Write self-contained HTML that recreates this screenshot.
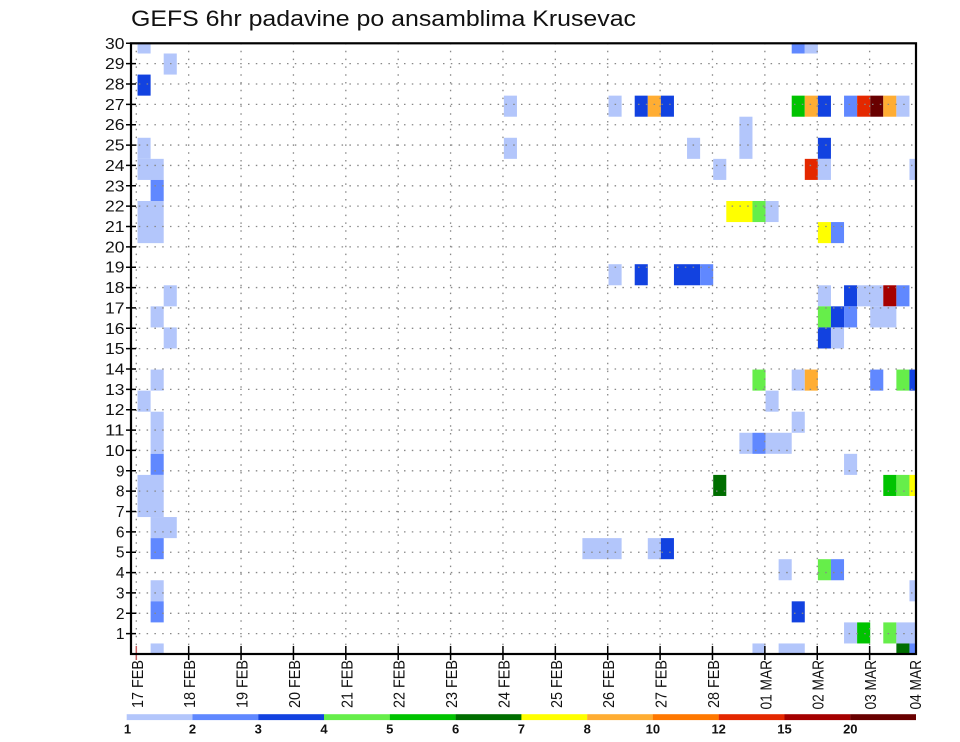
<!DOCTYPE html>
<html>
<head>
<meta charset="utf-8">
<style>
html,body{margin:0;padding:0;background:#fff;}
svg{display:block;}
text{font-family:"Liberation Sans",sans-serif;fill:#111;}
</style>
</head>
<body>
<svg width="960" height="742" viewBox="0 0 960 742" xmlns="http://www.w3.org/2000/svg">
<rect width="960" height="742" fill="#fff"/>
<defs><clipPath id="plot"><rect x="131" y="43.3" width="785" height="610.7"/></clipPath></defs>
<text x="131" y="26" font-size="22" textLength="505" lengthAdjust="spacingAndGlyphs">GEFS 6hr padavine po ansamblima Krusevac</text>
<g clip-path="url(#plot)"><g transform="translate(131,654) scale(13.0833,-21.07)">
<rect x="0.5" y="28.5" width="1" height="1" fill="#b3c6fb"/>
<rect x="2.5" y="27.5" width="1" height="1" fill="#b3c6fb"/>
<rect x="0.5" y="26.5" width="1" height="1" fill="#1242e0"/>
<rect x="0.5" y="23.5" width="1" height="1" fill="#b3c6fb"/>
<rect x="0.5" y="22.5" width="2" height="1" fill="#b3c6fb"/>
<rect x="1.5" y="21.5" width="1" height="1" fill="#6088ff"/>
<rect x="0.5" y="19.5" width="2" height="2" fill="#b3c6fb"/>
<rect x="2.5" y="16.5" width="1" height="1" fill="#b3c6fb"/>
<rect x="1.5" y="15.5" width="1" height="1" fill="#b3c6fb"/>
<rect x="2.5" y="14.5" width="1" height="1" fill="#b3c6fb"/>
<rect x="1.5" y="12.5" width="1" height="1" fill="#b3c6fb"/>
<rect x="0.5" y="11.5" width="1" height="1" fill="#b3c6fb"/>
<rect x="1.5" y="9.5" width="1" height="2" fill="#b3c6fb"/>
<rect x="1.5" y="8.5" width="1" height="1" fill="#6088ff"/>
<rect x="0.5" y="6.5" width="2" height="2" fill="#b3c6fb"/>
<rect x="1.5" y="5.5" width="2" height="1" fill="#b3c6fb"/>
<rect x="1.5" y="4.5" width="1" height="1" fill="#6088ff"/>
<rect x="1.5" y="2.5" width="1" height="1" fill="#b3c6fb"/>
<rect x="1.5" y="1.5" width="1" height="1" fill="#6088ff"/>
<rect x="1.5" y="-0.5" width="1" height="1" fill="#b3c6fb"/>
<rect x="50.5" y="28.5" width="1" height="1" fill="#6088ff"/>
<rect x="51.5" y="28.5" width="1" height="1" fill="#b3c6fb"/>
<rect x="28.5" y="25.5" width="1" height="1" fill="#b3c6fb"/>
<rect x="36.5" y="25.5" width="1" height="1" fill="#b3c6fb"/>
<rect x="38.5" y="25.5" width="1" height="1" fill="#1242e0"/>
<rect x="39.5" y="25.5" width="1" height="1" fill="#ffad33"/>
<rect x="40.5" y="25.5" width="1" height="1" fill="#1242e0"/>
<rect x="50.5" y="25.5" width="1" height="1" fill="#00c300"/>
<rect x="51.5" y="25.5" width="1" height="1" fill="#ffad33"/>
<rect x="52.5" y="25.5" width="1" height="1" fill="#1242e0"/>
<rect x="54.5" y="25.5" width="1" height="1" fill="#6088ff"/>
<rect x="55.5" y="25.5" width="1" height="1" fill="#e42800"/>
<rect x="56.5" y="25.5" width="1" height="1" fill="#690000"/>
<rect x="57.5" y="25.5" width="1" height="1" fill="#ffad33"/>
<rect x="58.5" y="25.5" width="1" height="1" fill="#b3c6fb"/>
<rect x="46.5" y="23.5" width="1" height="2" fill="#b3c6fb"/>
<rect x="28.5" y="23.5" width="1" height="1" fill="#b3c6fb"/>
<rect x="42.5" y="23.5" width="1" height="1" fill="#b3c6fb"/>
<rect x="52.5" y="23.5" width="1" height="1" fill="#1242e0"/>
<rect x="44.5" y="22.5" width="1" height="1" fill="#b3c6fb"/>
<rect x="51.5" y="22.5" width="1" height="1" fill="#e42800"/>
<rect x="52.5" y="22.5" width="1" height="1" fill="#b3c6fb"/>
<rect x="59.5" y="22.5" width="1" height="1" fill="#b3c6fb"/>
<rect x="45.5" y="20.5" width="2" height="1" fill="#ffff00"/>
<rect x="47.5" y="20.5" width="1" height="1" fill="#66ee4a"/>
<rect x="48.5" y="20.5" width="1" height="1" fill="#b3c6fb"/>
<rect x="52.5" y="19.5" width="1" height="1" fill="#ffff00"/>
<rect x="53.5" y="19.5" width="1" height="1" fill="#6088ff"/>
<rect x="36.5" y="17.5" width="1" height="1" fill="#b3c6fb"/>
<rect x="38.5" y="17.5" width="1" height="1" fill="#1242e0"/>
<rect x="41.5" y="17.5" width="2" height="1" fill="#1242e0"/>
<rect x="43.5" y="17.5" width="1" height="1" fill="#6088ff"/>
<rect x="52.5" y="16.5" width="1" height="1" fill="#b3c6fb"/>
<rect x="54.5" y="16.5" width="1" height="1" fill="#1242e0"/>
<rect x="55.5" y="16.5" width="2" height="1" fill="#b3c6fb"/>
<rect x="57.5" y="16.5" width="1" height="1" fill="#a50000"/>
<rect x="58.5" y="16.5" width="1" height="1" fill="#6088ff"/>
<rect x="52.5" y="15.5" width="1" height="1" fill="#66ee4a"/>
<rect x="53.5" y="15.5" width="1" height="1" fill="#1242e0"/>
<rect x="54.5" y="15.5" width="1" height="1" fill="#6088ff"/>
<rect x="56.5" y="15.5" width="2" height="1" fill="#b3c6fb"/>
<rect x="52.5" y="14.5" width="1" height="1" fill="#1242e0"/>
<rect x="53.5" y="14.5" width="1" height="1" fill="#b3c6fb"/>
<rect x="47.5" y="12.5" width="1" height="1" fill="#66ee4a"/>
<rect x="50.5" y="12.5" width="1" height="1" fill="#b3c6fb"/>
<rect x="51.5" y="12.5" width="1" height="1" fill="#ffad33"/>
<rect x="56.5" y="12.5" width="1" height="1" fill="#6088ff"/>
<rect x="58.5" y="12.5" width="1" height="1" fill="#66ee4a"/>
<rect x="59.5" y="12.5" width="1" height="1" fill="#1242e0"/>
<rect x="48.5" y="11.5" width="1" height="1" fill="#b3c6fb"/>
<rect x="50.5" y="10.5" width="1" height="1" fill="#b3c6fb"/>
<rect x="46.5" y="9.5" width="1" height="1" fill="#b3c6fb"/>
<rect x="47.5" y="9.5" width="1" height="1" fill="#6088ff"/>
<rect x="48.5" y="9.5" width="2" height="1" fill="#b3c6fb"/>
<rect x="54.5" y="8.5" width="1" height="1" fill="#b3c6fb"/>
<rect x="44.5" y="7.5" width="1" height="1" fill="#006e00"/>
<rect x="57.5" y="7.5" width="1" height="1" fill="#00c300"/>
<rect x="58.5" y="7.5" width="1" height="1" fill="#66ee4a"/>
<rect x="59.5" y="7.5" width="1" height="1" fill="#ffff00"/>
<rect x="34.5" y="4.5" width="3" height="1" fill="#b3c6fb"/>
<rect x="39.5" y="4.5" width="1" height="1" fill="#b3c6fb"/>
<rect x="40.5" y="4.5" width="1" height="1" fill="#1242e0"/>
<rect x="49.5" y="3.5" width="1" height="1" fill="#b3c6fb"/>
<rect x="52.5" y="3.5" width="1" height="1" fill="#66ee4a"/>
<rect x="53.5" y="3.5" width="1" height="1" fill="#6088ff"/>
<rect x="59.5" y="2.5" width="1" height="1" fill="#b3c6fb"/>
<rect x="50.5" y="1.5" width="1" height="1" fill="#1242e0"/>
<rect x="54.5" y="0.5" width="1" height="1" fill="#b3c6fb"/>
<rect x="55.5" y="0.5" width="1" height="1" fill="#00c300"/>
<rect x="57.5" y="0.5" width="1" height="1" fill="#66ee4a"/>
<rect x="58.5" y="0.5" width="2" height="1" fill="#b3c6fb"/>
<rect x="47.5" y="-0.5" width="1" height="1" fill="#b3c6fb"/>
<rect x="49.5" y="-0.5" width="2" height="1" fill="#b3c6fb"/>
<rect x="58.5" y="-0.5" width="1" height="1" fill="#006e00"/>
<rect x="59.5" y="-0.5" width="1" height="1" fill="#6088ff"/>
</g></g>
<path fill="none" stroke="#888" stroke-width="1.3" stroke-dasharray="1.5 6.3" d="M131 633.64H916M131 613.29H916M131 592.93H916M131 572.57H916M131 552.22H916M131 531.86H916M131 511.5H916M131 491.14H916M131 470.79H916M131 450.43H916M131 430.07H916M131 409.72H916M131 389.36H916M131 369H916M131 348.65H916M131 328.29H916M131 307.93H916M131 287.57H916M131 267.22H916M131 246.86H916M131 226.5H916M131 206.15H916M131 185.79H916M131 165.43H916M131 145.08H916M131 124.72H916M131 104.36H916M131 84H916M131 63.65H916M136.3 43V654M188.68 43V654M241.06 43V654M293.44 43V654M345.82 43V654M398.2 43V654M450.58 43V654M502.96 43V654M555.34 43V654M607.72 43V654M660.1 43V654M712.48 43V654M764.86 43V654M817.24 43V654M869.62 43V654"/>
<path fill="none" stroke="#000" stroke-width="1.5" d="M126 633.64H136M126 613.29H136M126 592.93H136M126 572.57H136M126 552.22H136M126 531.86H136M126 511.5H136M126 491.14H136M126 470.79H136M126 450.43H136M126 430.07H136M126 409.72H136M126 389.36H136M126 369H136M126 348.65H136M126 328.29H136M126 307.93H136M126 287.57H136M126 267.22H136M126 246.86H136M126 226.5H136M126 206.15H136M126 185.79H136M126 165.43H136M126 145.08H136M126 124.72H136M126 104.36H136M126 84H136M126 63.65H136M126 43.3H136M188.68 646V660M241.06 646V660M293.44 646V660M345.82 646V660M398.2 646V660M450.58 646V660M502.96 646V660M555.34 646V660M607.72 646V660M660.1 646V660M712.48 646V660M764.86 646V660M817.24 646V660M869.62 646V660"/>
<path d="M136.3 646V660" stroke="#c86060" stroke-width="1.5"/>
<rect x="131" y="43.3" width="785" height="610.7" fill="none" stroke="#000" stroke-width="2.2"/>
<g font-size="15.5" text-anchor="end">
<text x="124.5" y="639.1">1</text>
<text x="124.5" y="618.8">2</text>
<text x="124.5" y="598.4">3</text>
<text x="124.5" y="578.1">4</text>
<text x="124.5" y="557.7">5</text>
<text x="124.5" y="537.4">6</text>
<text x="124.5" y="517">7</text>
<text x="124.5" y="496.6">8</text>
<text x="124.5" y="476.3">9</text>
<text x="124.5" y="455.9" textLength="19.5" lengthAdjust="spacingAndGlyphs">10</text>
<text x="124.5" y="435.6" textLength="19.5" lengthAdjust="spacingAndGlyphs">11</text>
<text x="124.5" y="415.2" textLength="19.5" lengthAdjust="spacingAndGlyphs">12</text>
<text x="124.5" y="394.9" textLength="19.5" lengthAdjust="spacingAndGlyphs">13</text>
<text x="124.5" y="374.5" textLength="19.5" lengthAdjust="spacingAndGlyphs">14</text>
<text x="124.5" y="354.2" textLength="19.5" lengthAdjust="spacingAndGlyphs">15</text>
<text x="124.5" y="333.8" textLength="19.5" lengthAdjust="spacingAndGlyphs">16</text>
<text x="124.5" y="313.4" textLength="19.5" lengthAdjust="spacingAndGlyphs">17</text>
<text x="124.5" y="293.1" textLength="19.5" lengthAdjust="spacingAndGlyphs">18</text>
<text x="124.5" y="272.7" textLength="19.5" lengthAdjust="spacingAndGlyphs">19</text>
<text x="124.5" y="252.4" textLength="19.5" lengthAdjust="spacingAndGlyphs">20</text>
<text x="124.5" y="232" textLength="19.5" lengthAdjust="spacingAndGlyphs">21</text>
<text x="124.5" y="211.7" textLength="19.5" lengthAdjust="spacingAndGlyphs">22</text>
<text x="124.5" y="191.3" textLength="19.5" lengthAdjust="spacingAndGlyphs">23</text>
<text x="124.5" y="170.9" textLength="19.5" lengthAdjust="spacingAndGlyphs">24</text>
<text x="124.5" y="150.6" textLength="19.5" lengthAdjust="spacingAndGlyphs">25</text>
<text x="124.5" y="130.2" textLength="19.5" lengthAdjust="spacingAndGlyphs">26</text>
<text x="124.5" y="109.9" textLength="19.5" lengthAdjust="spacingAndGlyphs">27</text>
<text x="124.5" y="89.5" textLength="19.5" lengthAdjust="spacingAndGlyphs">28</text>
<text x="124.5" y="69.2" textLength="19.5" lengthAdjust="spacingAndGlyphs">29</text>
<text x="124.5" y="48.8" textLength="19.5" lengthAdjust="spacingAndGlyphs">30</text>
</g>
<g font-size="16">
<text transform="translate(142.8,708) rotate(-90)" textLength="48" lengthAdjust="spacingAndGlyphs">17 FEB</text>
<text transform="translate(195.2,708) rotate(-90)" textLength="48" lengthAdjust="spacingAndGlyphs">18 FEB</text>
<text transform="translate(247.6,708) rotate(-90)" textLength="48" lengthAdjust="spacingAndGlyphs">19 FEB</text>
<text transform="translate(299.9,708) rotate(-90)" textLength="48" lengthAdjust="spacingAndGlyphs">20 FEB</text>
<text transform="translate(352.3,708) rotate(-90)" textLength="48" lengthAdjust="spacingAndGlyphs">21 FEB</text>
<text transform="translate(404.7,708) rotate(-90)" textLength="48" lengthAdjust="spacingAndGlyphs">22 FEB</text>
<text transform="translate(457.1,708) rotate(-90)" textLength="48" lengthAdjust="spacingAndGlyphs">23 FEB</text>
<text transform="translate(509.5,708) rotate(-90)" textLength="48" lengthAdjust="spacingAndGlyphs">24 FEB</text>
<text transform="translate(561.8,708) rotate(-90)" textLength="48" lengthAdjust="spacingAndGlyphs">25 FEB</text>
<text transform="translate(614.2,708) rotate(-90)" textLength="48" lengthAdjust="spacingAndGlyphs">26 FEB</text>
<text transform="translate(666.6,708) rotate(-90)" textLength="48" lengthAdjust="spacingAndGlyphs">27 FEB</text>
<text transform="translate(719,708) rotate(-90)" textLength="48" lengthAdjust="spacingAndGlyphs">28 FEB</text>
<text transform="translate(771.4,709.5) rotate(-90)" textLength="49.5" lengthAdjust="spacingAndGlyphs">01 MAR</text>
<text transform="translate(823.7,709.5) rotate(-90)" textLength="49.5" lengthAdjust="spacingAndGlyphs">02 MAR</text>
<text transform="translate(876.1,709.5) rotate(-90)" textLength="49.5" lengthAdjust="spacingAndGlyphs">03 MAR</text>
<text transform="translate(921,709.5) rotate(-90)" textLength="49.5" lengthAdjust="spacingAndGlyphs">04 MAR</text>
</g>
<rect x="126.7" y="714.2" width="65.9" height="5.9" fill="#b3c6fb"/>
<rect x="192.5" y="714.2" width="65.9" height="5.9" fill="#6088ff"/>
<rect x="258.3" y="714.2" width="65.9" height="5.9" fill="#1242e0"/>
<rect x="324" y="714.2" width="65.9" height="5.9" fill="#66ee4a"/>
<rect x="389.8" y="714.2" width="65.9" height="5.9" fill="#00c300"/>
<rect x="455.6" y="714.2" width="65.9" height="5.9" fill="#006e00"/>
<rect x="521.4" y="714.2" width="65.9" height="5.9" fill="#ffff00"/>
<rect x="587.2" y="714.2" width="65.9" height="5.9" fill="#ffad33"/>
<rect x="652.9" y="714.2" width="65.9" height="5.9" fill="#ff7800"/>
<rect x="718.7" y="714.2" width="65.9" height="5.9" fill="#e42800"/>
<rect x="784.5" y="714.2" width="65.9" height="5.9" fill="#a50000"/>
<rect x="850.3" y="714.2" width="65.7" height="5.9" fill="#690000"/>
<g font-size="13" font-weight="bold" text-anchor="middle">
<text x="127.5" y="733.5">1</text>
<text x="192.5" y="733.5">2</text>
<text x="258.3" y="733.5">3</text>
<text x="324" y="733.5">4</text>
<text x="389.8" y="733.5">5</text>
<text x="455.6" y="733.5">6</text>
<text x="521.4" y="733.5">7</text>
<text x="587.2" y="733.5">8</text>
<text x="652.9" y="733.5">10</text>
<text x="718.7" y="733.5">12</text>
<text x="784.5" y="733.5">15</text>
<text x="850.3" y="733.5">20</text>
</g>
</svg>
</body>
</html>
